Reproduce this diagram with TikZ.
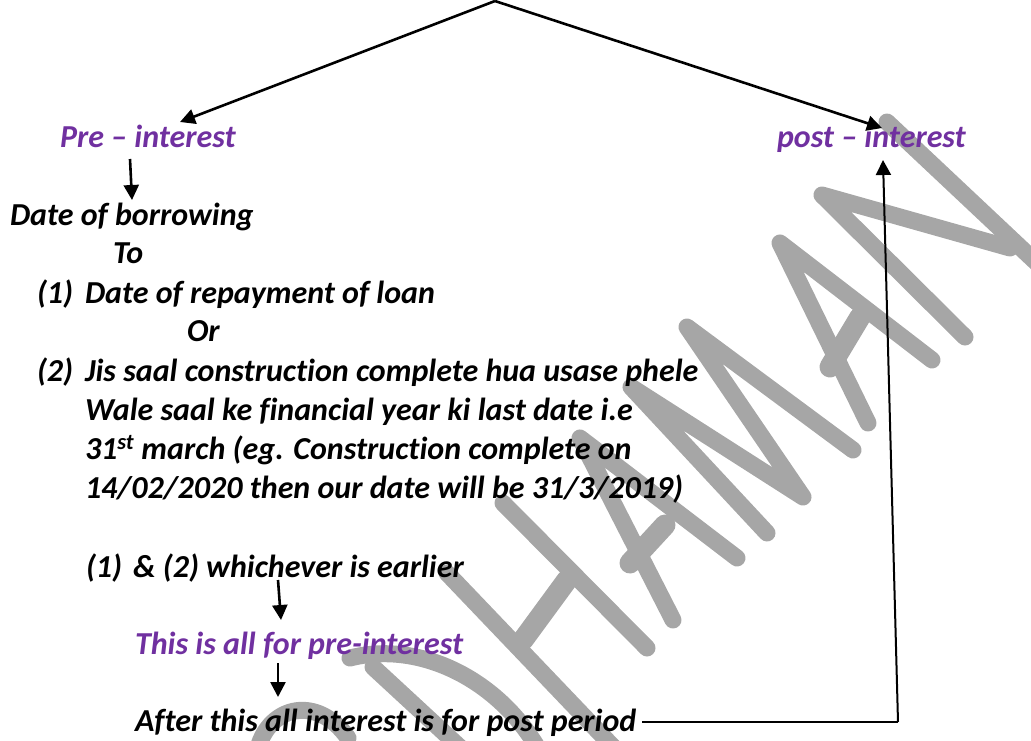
\documentclass[tikz,border=0pt]{standalone}
\usepackage{fontspec}
\setmainfont{Carlito}[Ligatures=NoCommon]
\usetikzlibrary{arrows.meta,calc}
\definecolor{notepurple}{RGB}{112,48,160}
\definecolor{markgrey}{RGB}{166,166,166}
\begin{document}
\begin{tikzpicture}[x=1pt,y=-1pt,
  txt/.style={anchor=base west,inner sep=0pt,outer sep=0pt,
    font=\fontsize{32}{39}\selectfont\bfseries\itshape},
  head/.style={txt,text=notepurple},
  arr/.style={line width=2.6pt,-{Triangle[length=15pt,width=15pt]}},
  link/.style={line width=2pt},
  wmstroke/.style={draw=markgrey,line width=17pt,line cap=round,line join=round}]
\useasboundingbox (0,0) rectangle (1031,740);

% hand-drawn watermark lettering behind the notes
\draw[wmstroke] (258,748) .. controls (270,705) and (318,695) .. (348,738);
\draw[wmstroke] (373,667) -- (465,752);
\draw[wmstroke] (350,658) .. controls (420,640) and (500,680) .. (540,752);
\draw[wmstroke] (447,573) -- (618,752);
\draw[wmstroke] (503,503) -- (647,648);
\draw[wmstroke,line width=21pt] (523,640) -- (567,580);
\draw[wmstroke] (673,620) -- (580,438) -- (737,558);
\draw[wmstroke,line width=21pt] (630,563) -- (665,525);
\draw[wmstroke] (767,533) -- (631,387) -- (803,497) -- (687,327) -- (853,450);
\draw[wmstroke] (868,423) -- (780,243) -- (932,360);
\draw[wmstroke,line width=21pt] (830,367) -- (860,317);
\draw[wmstroke] (965,337) -- (822,195) -- (1010,248);
\draw[wmstroke] (887,122) -- (1055,280);

% headings
\node[head] (pre) at (60,147) {Pre -- interest};
\node[head] (post) at (777,147) {post -- interest};

% left column
\node[txt] (date) at (10,225) {Date of borrowing};
\node[txt] (to) at (113,263) {To};
\node[txt] (labA) at (37,303) {(1)};
\node[txt] (repay) at (85,303) {Date of repayment of loan};
\node[txt] (or) at (187,341) {Or};
\node[txt] (labB) at (37,381) {(2)};
\node[txt] (jis) at (85,381) {Jis saal construction complete hua usase phele};
\node[txt] (wale) at (85,420) {Wale saal ke financial year ki last date i.e};
\node[txt] (march) at (85,459) {31\textsuperscript{st} march (eg. Construction complete on};
\node[txt] (eg) at (85,498) {14/02/2020 then our date will be 31/3/2019)};
\node[txt] (labC) at (86,577) {(1)};
\node[txt] (which) at (133,577) {\& (2) whichever is earlier};
\node[head] (allpre) at (135,654) {This is all for pre-interest};
\node[txt] (after) at (135,731) {After this all interest is for post period};

% connectors
\coordinate (apex) at (495,1);
\draw[arr] (apex) -- ($(pre.base west)+(120,-25)$);
\draw[arr] (apex) -- ($(post.base west)+(105,-19)$);
\draw[arr] ($(pre.base west)+(70,12)$) -- ($(date.base west)+(122,-25)$);
\draw[arr] ($(which.base west)+(145,3)$) -- ($(allpre.base west)+(146,-34)$);
\draw[arr] ($(allpre.base west)+(143,9)$) -- ($(after.base west)+(143,-34)$);
\coordinate (corner) at (898,722);
\draw[link] ($(after.base east)+(6,-9)$) -- (corner);
\draw[arr,line width=2pt] (corner) -- ($(post.base west)+(106,13)$);
\end{tikzpicture}
\end{document}
